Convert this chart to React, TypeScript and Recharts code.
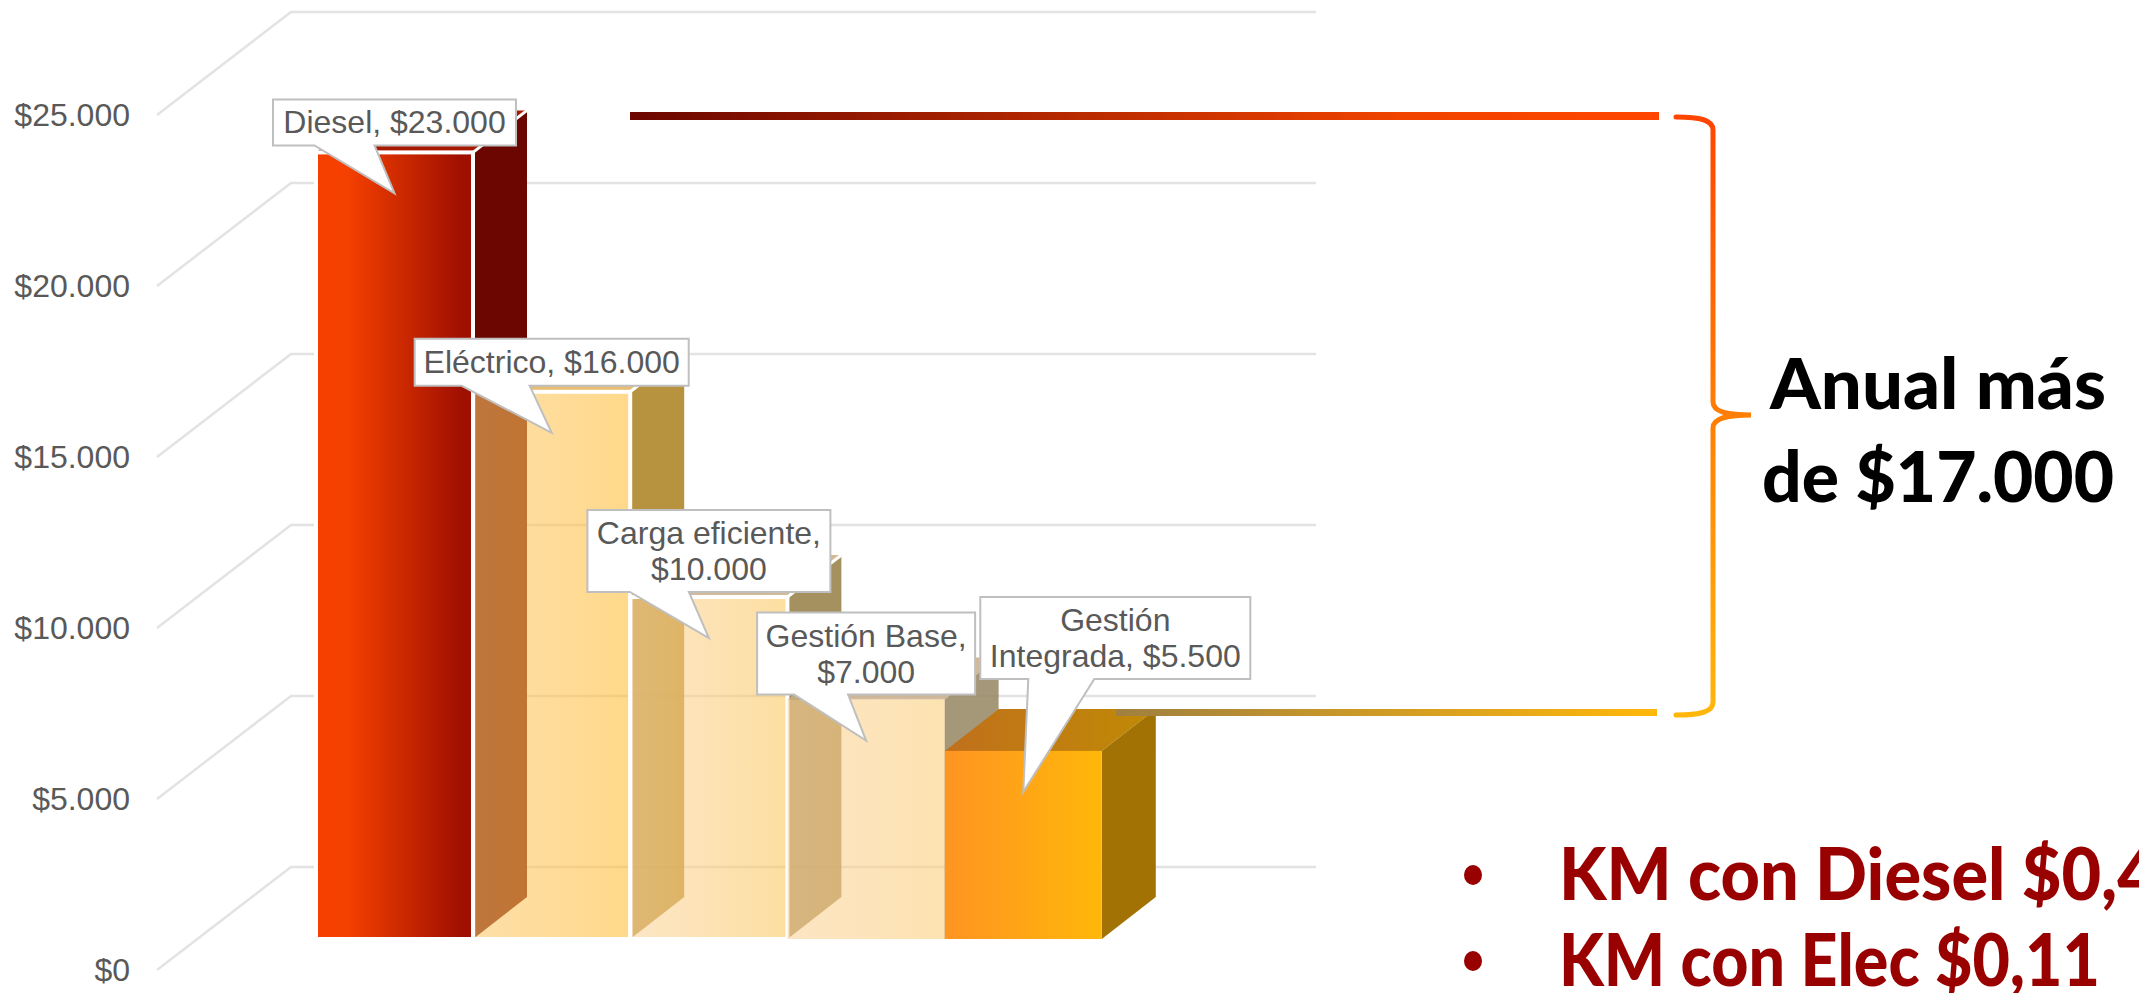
import React from 'react';
import { BarChart, Bar, XAxis, YAxis, CartesianGrid, LabelList } from 'recharts';

const categories = ['Diesel', 'Eléctrico', 'Carga eficiente', 'Gestión Base', 'Gestión Integrada'];
const values = [23000, 16000, 10000, 7000, 5500];
const yTicks = [0, 5000, 10000, 15000, 20000, 25000];
const calloutLines = [
  ['Diesel, $23.000'],
  ['Eléctrico, $16.000'],
  ['Carga eficiente,', '$10.000'],
  ['Gestión Base,', '$7.000'],
  ['Gestión', 'Integrada, $5.500'],
];
const totalLines = ['Anual más', 'de $17.000'];
const bullets = ['KM con Diesel $0,4', 'KM con Elec $0,11'];

const data = categories.map((name, i) => ({ name, value: values[i] }));

// 3D projection, pixels
const WALL_DX = 134;
const WALL_DY = 103;
const BAR_LIFT = 31;
const BAR_DX = 54;
const BAR_DY = 42;

const FONT = '"Liberation Sans", Arial, sans-serif';
const HEAVY = 'Lato, sans-serif';

const totalWidths = [336, 352];
const bulletWidths = [598, 541];

const faces = [
  { from: '#F54000', to: '#A01000', side: '#6B0600', top: '#A81A00', alpha: 1, sideAlpha: 1, edge: true },
  { from: '#FCC869', to: '#FFBC35', side: '#AC801D', top: '#E3B158', alpha: 0.58, sideAlpha: 0.85, edge: true },
  { from: '#FBD39C', to: '#FBC658', side: '#957D44', top: '#C9AE82', alpha: 0.57, sideAlpha: 0.85, edge: true },
  { from: '#FBD198', to: '#FBCD74', side: '#958660', top: '#C9AE8A', alpha: 0.57, sideAlpha: 0.85, edge: false },
  { from: '#FF9422', to: '#FFB70A', side: '#A37205', top: 'url(#topOrange)', alpha: 1, sideAlpha: 1, edge: false },
];

const callouts = [
  { w: 243, h: 46, gap: 48, shift: 0, tailL: -80, tailR: -20 },
  { w: 274, h: 47, gap: 47, shift: 0, tailL: -90, tailR: -22 },
  { w: 243, h: 82, gap: 46, shift: 0, tailL: -79, tailR: -20 },
  { w: 218, h: 82, gap: 46, shift: 0, tailL: -72, tailR: -18 },
  { w: 270, h: 82, gap: 113, shift: 92, tailL: 5, tailR: 71 },
];

const Bar3D = (props: any) => {
  const { x, y, width, height, index } = props;
  const f = faces[index];
  const top = y - BAR_LIFT;
  const right = x + width;
  const base = top + height;
  const sidePts = `${right},${top} ${right + BAR_DX},${top - BAR_DY} ${right + BAR_DX},${base - BAR_DY} ${right},${base}`;
  const topPts = `${x},${top} ${x + BAR_DX},${top - BAR_DY} ${right + BAR_DX},${top - BAR_DY} ${right},${top}`;
  const edge = f.edge ? { stroke: '#FFFFFF', strokeWidth: 4 } : {};
  return (
    <g>
      <polygon points={topPts} fill={f.top} fillOpacity={f.sideAlpha} />
      <polygon points={sidePts} fill={f.side} fillOpacity={f.sideAlpha} />
      {f.edge && <line x1={right} y1={top} x2={right + BAR_DX} y2={top - BAR_DY} stroke="#FFFFFF" strokeWidth={3} />}
      <rect x={x} y={top} width={width} height={height} fill={`url(#front${index})`} fillOpacity={f.alpha} {...edge} />
    </g>
  );
};

const Callout = (props: any) => {
  const { x, y, width, index } = props;
  const c = callouts[index];
  const tipX = x + width / 2;
  const tipY = y - BAR_LIFT + 41;
  const bottom = tipY - c.gap;
  const boxTop = bottom - c.h;
  const left = tipX + c.shift - c.w / 2;
  const right = left + c.w;
  const d = `M${left},${boxTop} H${right} V${bottom} H${tipX + c.tailR} L${tipX},${tipY} L${tipX + c.tailL},${bottom} H${left} Z`;
  const lines = calloutLines[index];
  const cy = boxTop + c.h / 2;
  return (
    <g>
      <path d={d} fill="#FFFFFF" stroke="#BFBFBF" strokeWidth={2} />
      {lines.map((t, i) => (
        <text
          key={t}
          x={left + c.w / 2}
          y={cy + (i - (lines.length - 1) / 2) * 36 + 11}
          textAnchor="middle"
          fontFamily={FONT}
          fontSize={32}
          fill="#595959"
        >
          {t}
        </text>
      ))}
    </g>
  );
};

const WallLine = (props: any) => {
  const { x1, y1, x2 } = props;
  const backX = x1 + WALL_DX;
  const backY = y1 - WALL_DY;
  return (
    <polyline
      points={`${x1},${y1} ${backX},${backY} ${x2},${backY}`}
      fill="none"
      stroke="#E3E3E3"
      strokeWidth={2.5}
    />
  );
};

const Annotations = () => (
  <svg width={2139} height={993} style={{ position: 'absolute', left: 0, top: 0 }}>
    <defs>
      <linearGradient id="lineTop" x1="0" x2="1" y1="0" y2="0">
        <stop offset="0" stopColor="#6B0600" />
        <stop offset="0.75" stopColor="#F04400" />
        <stop offset="1" stopColor="#FF4500" />
      </linearGradient>
      <linearGradient id="lineBottom" x1="0" x2="1" y1="0" y2="0">
        <stop offset="0" stopColor="#A08040" />
        <stop offset="1" stopColor="#FFB70A" />
      </linearGradient>
      <linearGradient id="brace" gradientUnits="userSpaceOnUse" x1="0" x2="0" y1="117" y2="715">
        <stop offset="0" stopColor="#FF4500" />
        <stop offset="1" stopColor="#FFB70A" />
      </linearGradient>
    </defs>
    <rect x={630} y={112} width={1029} height={8} fill="url(#lineTop)" />
    <rect x={1116} y={709} width={541} height={7} fill="url(#lineBottom)" />
    <path
      d="M1676,117 C1700,117 1713,120 1713,130 V402 C1713,412 1728,415 1751,415 C1728,415 1713,418 1713,428 V702 C1713,712 1700,715 1676,715"
      fill="none"
      stroke="url(#brace)"
      strokeWidth={5}
      strokeLinecap="round"
    />
    {totalLines.map((t, i) => (
      <text
        key={t}
        x={1938}
        y={409 + i * 93}
        textAnchor="middle"
        fontFamily={HEAVY}
        fontWeight={900}
        fontSize={70}
        textLength={totalWidths[i]}
        lengthAdjust="spacingAndGlyphs"
        fill="#000000"
      >
        {t}
      </text>
    ))}
    {bullets.map((t, i) => (
      <g key={t}>
        <ellipse cx={1473} cy={875 + i * 86} rx={9} ry={10} fill="#990000" />
        <text
          x={1559}
          y={900 + i * 86}
          fontFamily={HEAVY}
          fontWeight={900}
          fontSize={72}
          textLength={bulletWidths[i]}
          lengthAdjust="spacingAndGlyphs"
          fill="#990000"
        >
          {t}
        </text>
      </g>
    ))}
  </svg>
);

export default function App() {
  return (
    <div style={{ position: 'absolute', left: 0, top: 0, width: 2139, height: 993, overflow: 'hidden', background: '#FFFFFF' }}>
      <BarChart
        width={2139}
        height={993}
        data={data}
        barCategoryGap={0}
        margin={{ top: 115, right: 823, bottom: 23, left: 0 }}
      >
        <defs>
          {faces.map((f, i) => (
            <linearGradient key={i} id={`front${i}`} x1="0" x2="1" y1="0" y2="0">
              <stop offset={i === 0 ? 0.2 : 0} stopColor={f.from} />
              <stop offset={i === 0 ? 0.92 : 1} stopColor={f.to} />
            </linearGradient>
          ))}
          <linearGradient id="topOrange" x1="0" x2="1" y1="0" y2="0">
            <stop offset="0" stopColor="#C0701C" />
            <stop offset="1" stopColor="#C08A05" />
          </linearGradient>
        </defs>
        <CartesianGrid vertical={false} horizontal={(p: any) => <WallLine key={p.key ?? p.y1} {...p} />} />
        <XAxis dataKey="name" hide padding={{ left: 159, right: 214 }} />
        <YAxis
          width={157}
          domain={[0, 25000]}
          ticks={yTicks}
          interval={0}
          axisLine={false}
          tickLine={false}
          tickSize={0}
          tickMargin={27}
          tick={{ fill: '#595959', fontSize: 32, fontFamily: FONT }}
          tickFormatter={(v: number) => `$${String(v).replace(/\B(?=(\d{3})+$)/g, '.')}`}
        />
        <Bar dataKey="value" shape={Bar3D} isAnimationActive={false}>
          <LabelList dataKey="value" content={Callout} />
        </Bar>
      </BarChart>
      <Annotations />
    </div>
  );
}
